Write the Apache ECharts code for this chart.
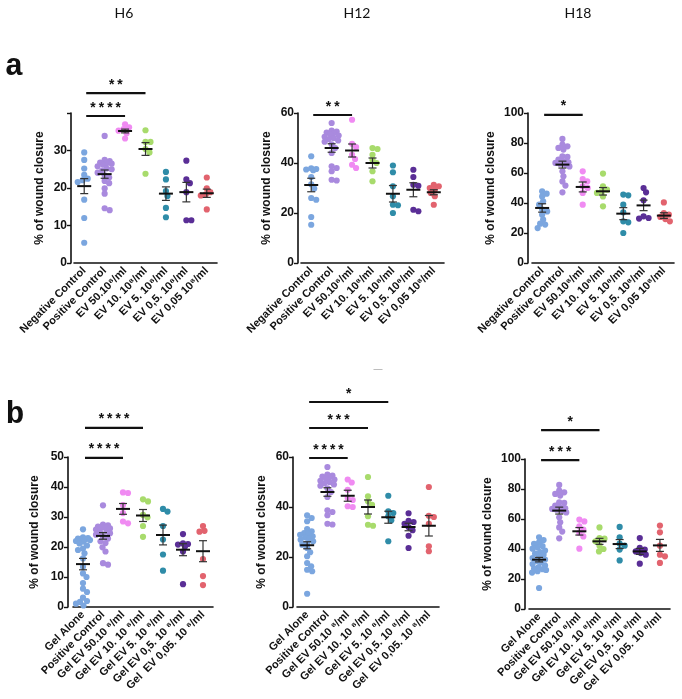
<!DOCTYPE html>
<html><head><meta charset="utf-8">
<script src="https://cdn.jsdelivr.net/npm/echarts@6/dist/echarts.min.js"></script>
<style>html,body{margin:0;padding:0;background:#fff}#c{width:682px;height:699px}</style>
</head><body><div id="c"></div><script>
// ---------- categories ----------
const catsA = ['Negative Control','Positive Control','EV 50.10\u2078/ml','EV 10. 10\u2078/ml','EV 5. 10\u2078/ml','EV 0,5. 10\u2078/ml','EV 0,05 10\u2078/ml'];
const catsB = ['Gel Alone','Positive Control','Gel EV 50.10 \u2078/ml','Gel EV 10. 10 \u2078/ml','Gel EV 5. 10 \u2078/ml','Gel EV 0,5. 10 \u2078/ml','Gel  EV 0,05. 10 \u2078/ml'];
const titles = ['H6','H12','H18'];

// ---------- shared positive control ----------
const pos6  = [33.9,27.5,27.2,26.8,26.6,26.5,26.2,25.8,25.2,25.0,24.6,24.1,23.4,22.8,21.9,21.3,19.9,18.5,14.6,14.1];
const pos12 = [56.0,53.0,52.6,52.2,52.0,51.5,51.0,50.5,50.0,49.5,49.0,48.5,47.5,46.0,44.0,38.7,38.0,36.7,33.3,33.0];
const pos18 = [82.7,78.9,77.8,76.7,75.6,71.1,70.7,68.9,67.8,67.1,66.7,66.2,65.6,64.4,61.1,57.8,54.4,51.6,47.1];

// ---------- row a, H6 ----------
const a6_neg   = [29.5,27.5,25.2,23.5,22.5,22.1,21.6,16.9,12.0,5.4];
const a6_ev50  = [37.0,36.2,35.7,35.3,34.6,33.2];
const a6_ev10  = [35.4,32.3,32.3,30.4,29.5,23.8];
const a6_ev5   = [24.3,22.3,19.2,17.9,14.7,12.2];
const a6_ev05  = [27.3,22.3,21.3,18.9,11.4,11.4];
const a6_ev005 = [22.8,19.9,18.9,18.3,18.0,14.3];
const a6_mean  = [20.5,23.7,35.2,30.4,18.5,18.9,18.6];
const a6_sem   = [2.0,1.1,0.5,1.7,1.8,2.6,1.1];
const a6_sig   = [[0,3,45.3,'**'],[0,2,39.2,'****']];

// ---------- row a, H12 ----------
const a12_neg   = [42.7,37.9,37.6,37.4,37.1,34.4,31.5,29.8,26.0,25.3,18.4,15.3];
const a12_ev50  = [57.3,47.7,46.4,43.3,41.6,39.3,38.0];
const a12_ev10  = [46.0,45.6,43.3,41.3,40.0,36.7,32.7];
const a12_ev5   = [39.0,36.3,30.7,26.7,23.3,23.1,20.0];
const a12_ev05  = [37.3,34.4,31.3,30.9,21.3,20.7];
const a12_ev005 = [31.3,30.7,30.0,29.3,28.0,26.7,23.3];
const a12_mean  = [31.2,46.0,45.0,40.0,27.7,29.3,28.3];
const a12_sem   = [2.7,1.7,2.6,2.0,3.3,2.8,1.0];
const a12_sig   = [[0,2,59.2,'**']];

// ---------- row a, H18 ----------
const a18_neg   = [47.8,46.2,44.4,41.1,38.9,35.6,34.4,32.2,28.9,26.2,25.6,23.3];
const a18_ev50  = [61.1,56.0,54.4,51.1,50.0,46.7,38.9];
const a18_ev10  = [59.6,51.1,48.9,47.8,46.7,44.4,37.8];
const a18_ev5   = [45.6,45.1,38.9,33.8,27.8,27.1,20.0];
const a18_ev05  = [50.0,47.1,41.8,31.1,30.0,29.6];
const a18_ev005 = [40.4,33.3,32.2,30.7,29.3,27.8];
const a18_mean  = [36.7,65.6,50.7,47.8,32.9,38.4,31.6];
const a18_sem   = [2.8,2.3,3.3,2.5,4.0,3.5,1.9];
const a18_sig   = [[0,2,98.7,'*']];

// ---------- row b, H6 ----------
const b6_gel    = [25.9,23.2,23.0,22.8,22.6,22.5,22.3,22.0,21.8,21.2,20.5,19.5,19.0,17.9,16.2,13.4,11.2,10.0,8.0,6.1,5.0,3.1,2.0,1.7,1.1,0.5];
const b6_ev50   = [38.2,38.0,34.0,31.3,28.5,27.9];
const b6_ev10   = [35.9,35.2,30.7,29.9,27.0,23.4];
const b6_ev5    = [32.7,31.8,27.0,22.5,17.5,12.1];
const b6_ev05   = [24.3,21.2,21.0,20.8,20.2,18.5,7.6];
const b6_ev005  = [27.0,25.4,25.1,16.0,10.3,7.3];
const b6_mean   = [14.3,23.7,32.7,30.5,24.0,19.1,18.6];
const b6_sem    = [1.9,1.1,1.8,2.0,3.3,2.0,3.5];
const b6_sig    = [[0,3,59.7,'****'],[0,2,49.7,'****']];

// ---------- row b, H12 ----------
const b12_gel   = [36.7,35.6,34.3,31.2,30.3,29.6,29.3,28.9,28.3,27.9,27.6,26.9,26.3,25.6,24.9,23.6,21.9,20.3,17.6,16.3,14.9,14.3,5.3];
const b12_ev50  = [51.0,49.8,46.9,43.6,42.8,40.3,40.0];
const b12_ev10  = [52.0,44.3,42.3,40.9,36.3,32.9,32.5];
const b12_ev5   = [44.5,38.3,37.6,36.3,34.7,26.3];
const b12_ev05  = [37.5,34.5,34.0,33.3,32.0,30.7,28.5,23.6];
const b12_ev005 = [48.0,36.5,36.0,33.3,24.3,22.3];
const b12_mean  = [24.7,46.0,44.5,40.0,35.9,32.0,32.5];
const b12_sem   = [1.4,1.7,2.2,2.8,2.4,1.5,4.1];
const b12_sig   = [[0,4,82.0,'*'],[0,3,71.6,'***'],[0,2,59.6,'****']];

// ---------- row b, H18 ----------
const b18_gel   = [47.8,46.0,44.4,43.5,42.0,41.0,40.2,39.0,38.0,37.0,36.2,35.0,34.0,33.0,32.0,31.0,30.0,29.0,28.0,27.0,26.5,26.0,25.2,24.3,14.0];
const b18_ev50  = [59.6,58.4,55.1,52.9,50.7,48.4,40.2];
const b18_ev10  = [54.4,47.3,46.9,45.1,42.2,40.0,38.4];
const b18_ev5   = [54.7,47.8,43.6,42.2,39.6,32.4];
const b18_ev05  = [47.3,40.7,39.6,38.4,37.3,36.2,30.2];
const b18_ev005 = [55.6,51.1,42.2,36.2,35.1,30.7];
const b18_mean  = [32.9,65.6,51.8,45.1,43.3,38.4,42.4];
const b18_sem   = [1.5,2.3,2.5,2.0,3.0,2.0,4.0];
const b18_sig   = [[0,3,119.3,'*'],[0,2,99.3,'***']];

// ---------- styles ----------
const colors = ['#7ba6df','#a98ade','#f08bf2','#a8db6c','#2f8ca8','#5a2e96','#e2636e'];
const panels = [
  {cats:catsA, pts:[a6_neg,pos6,a6_ev50,a6_ev10,a6_ev5,a6_ev05,a6_ev005], mean:a6_mean, sem:a6_sem, sig:a6_sig,
   left:74, top:113, width:143, height:150, max:40, interval:10, off:3, gap:25, hideTop:true},
  {cats:catsA, pts:[a12_neg,pos12,a12_ev50,a12_ev10,a12_ev5,a12_ev05,a12_ev005], mean:a12_mean, sem:a12_sem, sig:a12_sig,
   left:301, top:113, width:143, height:150, max:60, interval:20, off:3, gap:25},
  {cats:catsA, pts:[a18_neg,pos18,a18_ev50,a18_ev10,a18_ev5,a18_ev05,a18_ev005], mean:a18_mean, sem:a18_sem, sig:a18_sig,
   left:532, top:113, width:142, height:150, max:100, interval:20, off:4, gap:31},
  {cats:catsB, pts:[b6_gel,pos6,b6_ev50,b6_ev10,b6_ev5,b6_ev05,b6_ev005], mean:b6_mean, sem:b6_sem, sig:b6_sig,
   left:73, top:457, width:140, height:150, max:50, interval:10, off:5, gap:27},
  {cats:catsB, pts:[b12_gel,pos12,b12_ev50,b12_ev10,b12_ev5,b12_ev05,b12_ev005], mean:b12_mean, sem:b12_sem, sig:b12_sig,
   left:297, top:457, width:142, height:150, max:60, interval:20, off:4, gap:25},
  {cats:catsB, pts:[b18_gel,pos18,b18_ev50,b18_ev10,b18_ev5,b18_ev05,b18_ev005], mean:b18_mean, sem:b18_sem, sig:b18_sig,
   left:529, top:459, width:141, height:150, max:100, interval:20, off:4, gap:31}
];

const R = 3.1, DMIN = 5.0, CAP = 7;
function dotRender(pts) {
  return function (params, api) {
    const c = api.value(0), k = api.value(2);
    const vals = pts[c];
    const cx = api.coord([c, 0])[0];
    const placed = [];
    for (let i = 0; i <= k; i++) {
      const py = api.coord([c, vals[i]])[1];
      let best = 0, bestD = -1, found = false;
      for (let s = 0; s <= CAP * 4; s++) {
        const cand = (s % 2 === 1 ? 1 : -1) * Math.ceil(s / 2) * 0.5;
        let md = 1e9;
        for (const q of placed) {
          const ddx = cand - q[0], ddy = py - q[1];
          md = Math.min(md, Math.sqrt(ddx * ddx + ddy * ddy));
        }
        if (md >= DMIN) { best = cand; found = true; break; }
        if (md > bestD) { bestD = md; best = cand; }
      }
      placed.push([best, py]);
    }
    const p = placed[k];
    return {type:'circle', shape:{cx: cx + p[0], cy: p[1], r: R}, style:{fill: colors[c]}};
  };
}
function meanRender(params, api) {
  const c = api.value(0), m = api.value(1), s = api.value(2);
  const pm = api.coord([c, m]), pt = api.coord([c, m + s]), pb = api.coord([c, m - s]);
  const x = pm[0];
  return {type:'group', children:[
    {type:'line', shape:{x1:x, y1:pt[1], x2:x, y2:pb[1]}, style:{stroke:'#333', lineWidth:1.2}},
    {type:'line', shape:{x1:x-4, y1:pt[1], x2:x+4, y2:pt[1]}, style:{stroke:'#333', lineWidth:1.2}},
    {type:'line', shape:{x1:x-4, y1:pb[1], x2:x+4, y2:pb[1]}, style:{stroke:'#333', lineWidth:1.2}},
    {type:'line', shape:{x1:x-7, y1:pm[1], x2:x+7, y2:pm[1]}, style:{stroke:'#111', lineWidth:2}}
  ]};
}
function sigRender(sig) {
  return function (params, api) {
    const d = sig[params.dataIndex];
    const p1 = api.coord([d[0], d[2]]), p2 = api.coord([d[1], d[2]]);
    return {type:'group', children:[
      {type:'line', shape:{x1:p1[0]+2, y1:p1[1], x2:p2[0], y2:p2[1]}, style:{stroke:'#111', lineWidth:2.2}},
      {type:'text', x:(p1[0]+p2[0])/2 + 1, y:p1[1]-7, style:{text:d[3], fill:'#111', font:'bold 14px "Liberation Mono"', align:'center', verticalAlign:'middle', textAlign:'center', textVerticalAlign:'middle'}}
    ]};
  };
}

const grid = [], xAxis = [], yAxis = [], series = [];
panels.forEach((P, g) => {
  grid.push({left:P.left, top:P.top, width:P.width, height:P.height});
  xAxis.push({gridIndex:g, type:'category', data:P.cats, boundaryGap:true,
    axisLine:{lineStyle:{color:'#111', width:1.6}},
    axisTick:{alignWithLabel:true, length:4, lineStyle:{color:'#111', width:1.4}},
    axisLabel:{interval:0, rotate:45, margin:6, color:'#111', fontSize:11, fontWeight:'bold', fontFamily:'Liberation Sans'},
    splitLine:{show:false}});
  yAxis.push({gridIndex:g, type:'value', min:0, max:P.max, interval:P.interval, offset:P.off,
    splitLine:{show:false},
    axisLine:{show:true, lineStyle:{color:'#111', width:1.6}},
    axisTick:{show:true, length:4, lineStyle:{color:'#111', width:1.4}},
    axisLabel:{color:'#111', fontSize:12, fontWeight:'bold', fontFamily:'Liberation Sans', margin:4,
      formatter: (v) => (P.hideTop && v === P.max) ? '' : String(v)},
    name:'% of wound closure', nameLocation:'middle', nameGap:P.gap,
    nameTextStyle:{color:'#111', fontSize:12, fontWeight:'bold', fontFamily:'Liberation Sans'}});
  const dots = [];
  P.pts.forEach((arr, c) => arr.forEach((v, k) => dots.push([c, v, k])));
  series.push({type:'custom', xAxisIndex:g, yAxisIndex:g, data:dots, encode:{x:0, y:1},
    renderItem: dotRender(P.pts), z:2, silent:true});
  series.push({type:'custom', xAxisIndex:g, yAxisIndex:g,
    data:P.mean.map((m, c) => [c, m, P.sem[c]]), encode:{x:0, y:1},
    renderItem: meanRender, z:3, silent:true});
  series.push({type:'custom', xAxisIndex:g, yAxisIndex:g,
    data:P.sig.map(d => [d[0], d[1], d[2]]), encode:{x:0, y:2}, clip:false,
    renderItem: sigRender(P.sig), z:4, silent:true});
});

const titleX = [124, 357, 578];
const graphic = titles.map((t, i) => ({type:'text', x:titleX[i], y:13,
  style:{text:t, fill:'#111', font:'14px "Lato"', align:'center', verticalAlign:'middle', textAlign:'center', textVerticalAlign:'middle'}}));
graphic.push({type:'text', x:14, y:67, style:{text:'a', fill:'#111', font:'bold 31px "Liberation Mono"', align:'center', verticalAlign:'middle', textAlign:'center', textVerticalAlign:'middle'}});
graphic.push({type:'text', x:15, y:415, style:{text:'b', fill:'#111', font:'bold 31px "Liberation Mono"', align:'center', verticalAlign:'middle', textAlign:'center', textVerticalAlign:'middle'}});
graphic.push({type:'text', x:378, y:370, style:{text:'\u2014', fill:'#999', font:'9px "Liberation Sans"', align:'center', verticalAlign:'middle', textAlign:'center', textVerticalAlign:'middle'}});

const chart = echarts.init(document.getElementById('c'), null, {renderer:'canvas'});
chart.setOption({animation:false, backgroundColor:'#fff', grid, xAxis, yAxis, series, graphic});
</script></body></html>
